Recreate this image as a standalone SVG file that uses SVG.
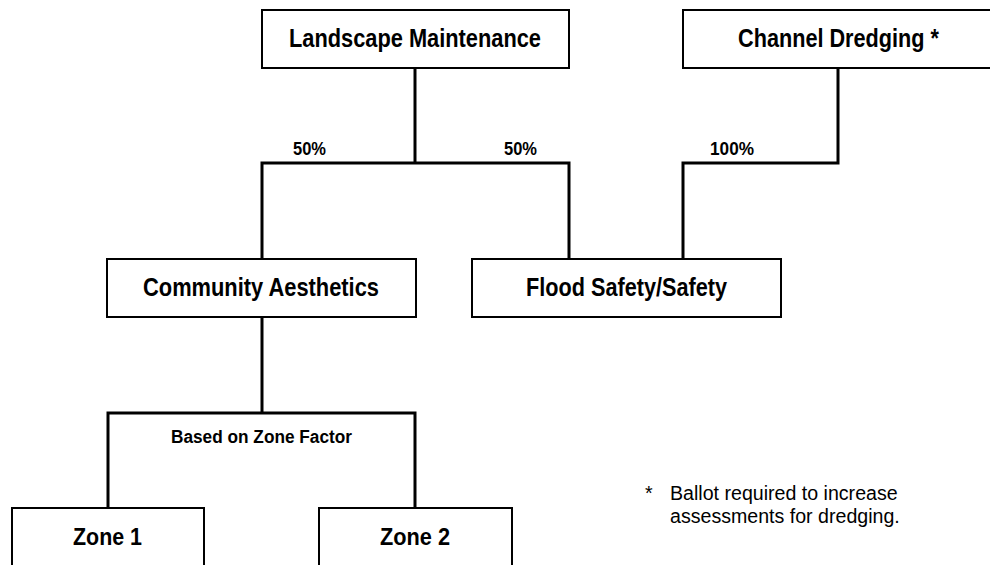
<svg xmlns="http://www.w3.org/2000/svg" width="990" height="565" viewBox="0 0 990 565">
<style>
.box{fill:#fff;stroke:#000;stroke-width:2}
.conn{fill:none;stroke:#000;stroke-width:3;stroke-linejoin:miter}
.lbl{font-family:"Liberation Sans Narrow","Liberation Sans",Arial,sans-serif;font-weight:bold;fill:#000;text-anchor:middle}
.big{font-size:26px}
.pct{font-size:18px}
.zone{font-size:24px}
.note{font-family:"Liberation Sans",Arial,sans-serif;font-size:19.6px;fill:#000}
</style>
<rect width="990" height="565" fill="#fff"/>
<g id="connectors">
<path class="conn" d="M415,68 V163"/>
<path class="conn" d="M262,259 V163 H569 V259"/>
<path class="conn" d="M838,68 V163 H683 V259"/>
<path class="conn" d="M262,317 V413"/>
<path class="conn" d="M108,508 V413 H415 V508"/>
<text class="lbl pct" x="309.5" y="155" textLength="33" lengthAdjust="spacingAndGlyphs">50%</text>
<text class="lbl pct" x="520.5" y="155" textLength="33" lengthAdjust="spacingAndGlyphs">50%</text>
<text class="lbl pct" x="732" y="155" textLength="44" lengthAdjust="spacingAndGlyphs">100%</text>
<text class="lbl pct" x="261.5" y="443" textLength="181" lengthAdjust="spacingAndGlyphs">Based on Zone Factor</text>
</g>
<g id="landscape">
<rect class="box" x="262" y="10" width="307" height="58"/>
<text class="lbl big" x="415" y="47" textLength="252" lengthAdjust="spacingAndGlyphs">Landscape Maintenance</text>
</g>
<g id="channel">
<rect class="box" x="683" y="10" width="320" height="58"/>
<text class="lbl big" x="838.5" y="47" textLength="201" lengthAdjust="spacingAndGlyphs">Channel Dredging *</text>
</g>
<g id="community">
<rect class="box" x="107" y="259" width="309" height="58"/>
<text class="lbl big" x="261" y="296" textLength="236" lengthAdjust="spacingAndGlyphs">Community Aesthetics</text>
</g>
<g id="flood">
<rect class="box" x="472" y="259" width="309" height="58"/>
<text class="lbl big" x="626.5" y="296" textLength="201" lengthAdjust="spacingAndGlyphs">Flood Safety/Safety</text>
</g>
<g id="zone1">
<rect class="box" x="12" y="508" width="192" height="70"/>
<text class="lbl zone" x="107.5" y="545" textLength="69" lengthAdjust="spacingAndGlyphs">Zone 1</text>
</g>
<g id="zone2">
<rect class="box" x="319" y="508" width="193" height="70"/>
<text class="lbl zone" x="415" y="545" textLength="70" lengthAdjust="spacingAndGlyphs">Zone 2</text>
</g>
<g id="footnote">
<text class="note" x="645" y="500">*</text>
<text class="note" x="670" y="500">Ballot required to increase</text>
<text class="note" x="670" y="523">assessments for dredging.</text>
</g>
</svg>
